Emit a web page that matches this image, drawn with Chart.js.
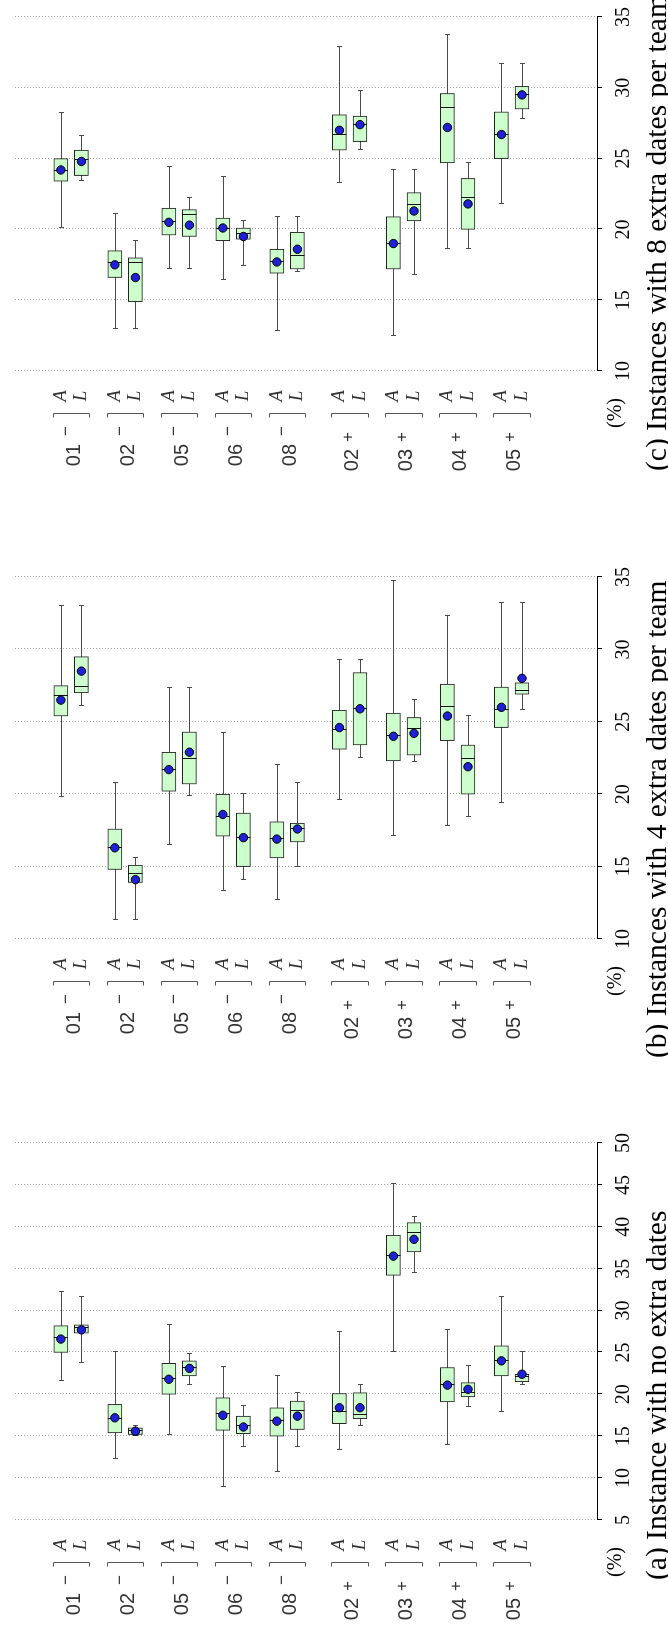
<!DOCTYPE html>
<html>
<head>
<meta charset="utf-8">
<script src="https://cdn.jsdelivr.net/npm/chart.js@4.4.1/dist/chart.umd.min.js"></script>
<style>
  html, body { margin: 0; padding: 0; background: #fff; overflow: hidden; }
  #fig { position: absolute; left: 0; top: 0; width: 1625px; height: 668px;
         transform-origin: 0 0; transform: translateY(1625px) rotate(-90deg); }
  #fig canvas { position: absolute; top: 0; }
</style>
</head>
<body>
<div id="fig">
  <canvas id="pa" width="540" height="668" style="left:0px"></canvas>
  <canvas id="pb" width="560" height="668" style="left:540px"></canvas>
  <canvas id="pc" width="525" height="668" style="left:1100px"></canvas>
</div>
<script>
// instance groups, each with method A and L
const groupNames = ["01", "02", "05", "06", "08", "02", "03", "04", "05"];
const groupSigns = ["−", "−", "−", "−", "−", "+", "+", "+", "+"];
const methods = ["A", "L"];

// (a) no extra dates  -- order: 01-A, 01-L, 02-A, 02-L, ... 05+A, 05+L
const aLow  = [21.6, 23.7, 12.3, 15.0, 15.1, 21.1, 8.9, 13.7, 10.7, 13.7, 13.4, 16.2, 25.1, 34.5, 13.9, 18.5, 17.9, 21.1];
const aQ1   = [25.0, 27.3, 15.4, 15.2, 20.0, 22.2, 15.7, 15.3, 15.0, 15.8, 16.5, 17.1, 34.2, 37.0, 19.1, 19.7, 22.2, 21.5];
const aMed  = [26.7, 27.9, 17.0, 15.6, 21.8, 23.1, 17.7, 16.2, 16.8, 18.0, 17.9, 17.5, 36.5, 39.2, 21.1, 20.1, 24.0, 22.1];
const aQ3   = [28.2, 28.3, 18.8, 16.0, 23.7, 24.0, 19.6, 17.4, 18.4, 19.2, 20.1, 20.2, 39.0, 40.5, 23.2, 21.4, 25.8, 22.4];
const aHigh = [32.2, 31.6, 25.0, 16.2, 28.3, 24.8, 23.3, 18.6, 22.2, 20.1, 27.4, 21.1, 45.1, 41.2, 27.7, 23.4, 31.6, 25.1];
const aMean = [26.6, 27.7, 17.2, 15.6, 21.8, 23.1, 17.5, 16.1, 16.8, 17.4, 18.4, 18.4, 36.5, 38.5, 21.1, 20.6, 24.0, 22.4];

// (b) 4 extra dates per team
const bLow  = [19.8, 26.1, 11.3, 11.3, 16.5, 19.9, 13.3, 14.1, 12.7, 15.0, 19.6, 22.5, 17.1, 22.2, 17.8, 18.4, 19.4, 25.8];
const bQ1   = [25.4, 27.0, 14.8, 13.9, 20.2, 20.7, 17.1, 15.0, 15.6, 16.7, 23.1, 23.4, 22.3, 22.7, 23.7, 20.0, 24.6, 26.9];
const bMed  = [26.8, 27.4, 16.3, 14.5, 21.7, 22.4, 18.4, 17.0, 16.9, 17.6, 24.4, 25.9, 24.0, 24.5, 26.0, 22.4, 25.8, 27.1];
const bQ3   = [27.5, 29.5, 17.6, 15.1, 22.9, 24.3, 20.0, 18.7, 18.1, 18.0, 25.8, 28.4, 25.6, 25.3, 27.6, 23.4, 27.4, 27.7];
const bHigh = [33.0, 33.0, 20.8, 15.6, 27.3, 27.3, 24.2, 20.0, 22.0, 20.8, 29.3, 29.3, 34.7, 26.5, 32.3, 25.4, 33.2, 33.2];
const bMean = [26.5, 28.5, 16.3, 14.1, 21.7, 22.9, 18.6, 17.0, 16.9, 17.6, 24.6, 25.9, 24.0, 24.2, 25.4, 21.9, 26.0, 28.0];

// (c) 8 extra dates per team
const cLow  = [20.1, 23.4, 13.0, 13.0, 17.2, 17.2, 16.4, 17.4, 12.8, 17.0, 23.3, 25.6, 12.5, 16.8, 18.6, 18.6, 21.8, 27.8];
const cQ1   = [23.4, 23.8, 16.6, 14.9, 19.6, 19.5, 19.2, 19.3, 16.9, 17.2, 25.6, 26.2, 17.2, 20.6, 24.7, 20.0, 25.0, 28.5];
const cMed  = [24.1, 24.9, 17.6, 17.6, 20.5, 21.0, 20.0, 19.7, 17.7, 18.1, 26.7, 27.4, 19.0, 21.7, 28.6, 22.2, 26.7, 29.5];
const cQ3   = [25.0, 25.6, 18.5, 18.0, 21.5, 21.4, 20.8, 20.1, 18.6, 19.8, 28.1, 28.0, 20.9, 22.6, 29.6, 23.6, 28.3, 30.1];
const cHigh = [28.2, 26.6, 21.1, 19.2, 24.4, 22.2, 23.7, 20.6, 20.9, 20.9, 32.9, 29.8, 24.2, 24.2, 33.7, 24.7, 31.7, 31.7];
const cMean = [24.2, 24.8, 17.5, 16.6, 20.5, 20.3, 20.1, 19.5, 17.7, 18.6, 27.0, 27.4, 19.0, 21.3, 27.2, 21.8, 26.7, 29.5];

const aTicks = [5, 50];
const bTicks = [10, 35];
const cTicks = [10, 35];

const panels = [
  { id: "pa", lo: aLow, q1: aQ1, med: aMed, q3: aQ3, hi: aHigh, mean: aMean, range: aTicks,
    padL: 105, padR: 58, capX: 45, caption: "(a) Instance with no extra dates" },
  { id: "pb", lo: bLow, q1: bQ1, med: bMed, q3: bQ3, hi: bHigh, mean: bMean, range: bTicks,
    padL: 146, padR: 52, capX: 27, caption: "(b) Instances with 4 extra dates per team" },
  { id: "pc", lo: cLow, q1: cQ1, med: cMed, q3: cQ3, hi: cHigh, mean: cMean, range: cTicks,
    padL: 154, padR: 12, capX: 54, caption: "(c) Instances with 8 extra dates per team" },
];

// slot of item i on the group axis (A / L pairs, a wider gap before the "+" groups)
function slot(i) {
  const g = Math.floor(i / 2);
  return g * 63 + (i % 2) * 24 + (g >= 5 ? 10 : 0);
}

const BOX_W = 14;

function makeChart(p) {
  const boxParts = {
    id: "boxParts",
    beforeDatasetsDraw(chart) {
      const { ctx, chartArea, scales: { x, y } } = chart;
      ctx.save();
      // dotted grid
      ctx.strokeStyle = "#a0a0a0";
      ctx.lineWidth = 1;
      ctx.setLineDash([1, 2]);
      x.ticks.forEach(t => {
        const px = Math.round(x.getPixelForValue(t.value)) + 0.5;
        ctx.beginPath();
        ctx.moveTo(px, chartArea.top);
        ctx.lineTo(px, chartArea.bottom);
        ctx.stroke();
      });
      ctx.setLineDash([]);
      // tick marks
      ctx.strokeStyle = "#000";
      x.ticks.forEach(t => {
        const px = Math.round(x.getPixelForValue(t.value)) + 0.5;
        ctx.beginPath();
        ctx.moveTo(px, chartArea.bottom);
        ctx.lineTo(px, chartArea.bottom + 5);
        ctx.stroke();
      });
      // whiskers
      ctx.strokeStyle = "#4a4a4a";
      p.lo.forEach((lo, i) => {
        const py = Math.round(y.getPixelForValue(slot(i))) + 0.5;
        const x1 = Math.round(x.getPixelForValue(lo)) + 0.5;
        const x2 = Math.round(x.getPixelForValue(p.hi[i])) + 0.5;
        ctx.beginPath();
        ctx.moveTo(x1, py); ctx.lineTo(x2, py);
        ctx.moveTo(x1, py - 2.5); ctx.lineTo(x1, py + 2.5);
        ctx.moveTo(x2, py - 2.5); ctx.lineTo(x2, py + 2.5);
        ctx.stroke();
      });
      ctx.restore();
    },
    afterDatasetDraw(chart, args) {
      if (args.index !== 0) return;
      const { ctx, scales: { x, y } } = chart;
      ctx.save();
      ctx.strokeStyle = "#111";
      ctx.lineWidth = 1;
      p.med.forEach((m, i) => {
        const py = y.getPixelForValue(slot(i));
        const px = Math.round(x.getPixelForValue(m)) + 0.5;
        ctx.beginPath();
        ctx.moveTo(px, py - BOX_W / 2);
        ctx.lineTo(px, py + BOX_W / 2);
        ctx.stroke();
      });
      ctx.restore();
    },
    afterDraw(chart) {
      const { ctx, chartArea, scales: { y } } = chart;
      const x0 = chartArea.left;
      ctx.save();
      ctx.textBaseline = "middle";
      groupNames.forEach((name, g) => {
        const pA = y.getPixelForValue(slot(2 * g));
        const pL = y.getPixelForValue(slot(2 * g + 1));
        const mid = (pA + pL) / 2;
        // method labels
        ctx.fillStyle = "#333";
        ctx.font = 'italic 19px "Liberation Serif"';
        ctx.textAlign = "center";
        ctx.fillText(methods[0], x0 - 25, pA);
        ctx.fillText(methods[1], x0 - 25, pL);
        // bracket, open towards the group name
        ctx.strokeStyle = "#555";
        ctx.lineWidth = 1;
        const bx = Math.round(x0 - 43) + 0.5;
        ctx.beginPath();
        ctx.moveTo(bx - 4, Math.round(pA - 8) + 0.5);
        ctx.lineTo(bx, Math.round(pA - 8) + 0.5);
        ctx.lineTo(bx, Math.round(pL + 8) + 0.5);
        ctx.lineTo(bx - 4, Math.round(pL + 8) + 0.5);
        ctx.stroke();
        // group name with superscript sign
        const minus = groupSigns[g] === "−";
        ctx.font = '20px "Liberation Sans"';
        ctx.textAlign = "right";
        ctx.fillText(name, x0 - (minus ? 73 : 78), mid + 3);
        ctx.font = '17px "Liberation Sans"';
        ctx.textAlign = "center";
        ctx.fillText(groupSigns[g], x0 - (minus ? 60 : 66), mid + (minus ? -5 : -1));
      });
      // unit label and caption
      ctx.fillStyle = "#000";
      ctx.font = '20px "Liberation Serif"';
      ctx.textAlign = "center";
      ctx.fillText("(%)", x0 - 42, chartArea.bottom + 19);
      ctx.font = '29.5px "Liberation Serif"';
      ctx.textAlign = "left";
      ctx.textBaseline = "alphabetic";
      ctx.fillText(p.caption, p.capX, 666);
      ctx.restore();
    }
  };

  const boxData = p.q1.map((q, i) => ({ x: [q, p.q3[i]], y: slot(i) }));
  const meanData = p.mean.map((m, i) => ({ x: m, y: slot(i) }));

  return new Chart(document.getElementById(p.id), {
    type: "bar",
    data: {
      datasets: [
        {
          type: "bar",
          data: boxData,
          backgroundColor: "#ccffcc",
          borderColor: "#222",
          borderWidth: 1,
          borderSkipped: false,
          barThickness: BOX_W,
          order: 2,
          clip: false,
        },
        {
          type: "scatter",
          data: meanData,
          pointRadius: 4.2,
          pointBackgroundColor: "#2020d8",
          pointBorderColor: "#000",
          pointBorderWidth: 1,
          order: 1,
          clip: false,
        },
      ],
    },
    options: {
      indexAxis: "y",
      responsive: false,
      animation: false,
      devicePixelRatio: 1,
      layout: { padding: { left: p.padL, right: p.padR, top: 15, bottom: 0 } },
      plugins: { legend: { display: false }, tooltip: { enabled: false } },
      scales: {
        x: {
          type: "linear",
          position: "bottom",
          min: p.range[0],
          max: p.range[1],
          grid: { display: false },
          border: { display: true, color: "#000", width: 1 },
          ticks: {
            stepSize: 5,
            maxRotation: 0,
            padding: 7,
            color: "#000",
            font: { family: "Liberation Serif", size: 20 },
          },
          afterFit: s => { s.height = 71; },
        },
        y: {
          type: "linear",
          display: false,
          reverse: true,
          min: -5,
          max: 577,
        },
      },
    },
    plugins: [boxParts],
  });
}

panels.forEach(makeChart);
</script>
</body>
</html>
